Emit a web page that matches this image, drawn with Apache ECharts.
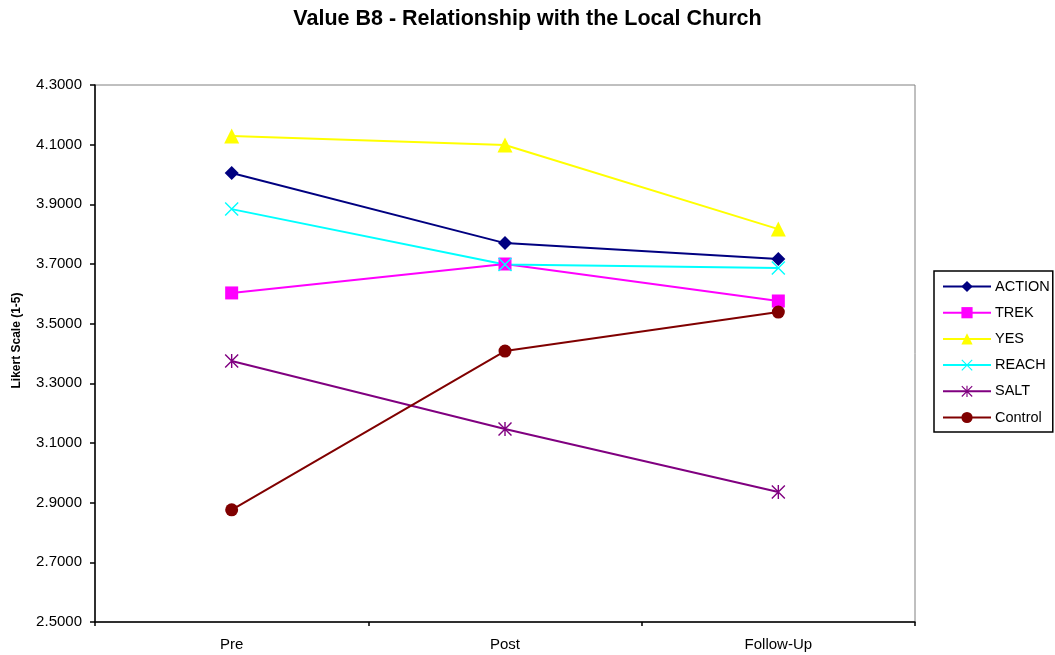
<!DOCTYPE html>
<html>
<head>
<meta charset="utf-8">
<script src="https://cdn.jsdelivr.net/npm/echarts@6/dist/echarts.min.js"></script>
<style>
  html, body { margin: 0; padding: 0; background: #ffffff; }
  #chart { width: 1055px; height: 655px; }
</style>
</head>
<body>
<div id="chart"></div>
<script>
// Survey waves
const categories = ['Pre', 'Post', 'Follow-Up'];

// Mean Likert scores per program
const action  = [4.005, 3.770, 3.717];
const trek    = [3.603, 3.700, 3.576];
const yes     = [4.129, 4.099, 3.817];
const reach   = [3.884, 3.698, 3.687];
const salt    = [3.375, 3.147, 2.936];
const control = [2.876, 3.408, 3.539];

// Value-axis range and step
const yMin = 2.5;
const yMax = 4.3;
const yStep = 0.2;

// Marker shapes: an "x" and a six-armed asterisk, built from filled bars
const crossPath = 'path://M0,1L1,0L14,13L13,14ZM13,0L14,1L1,14L0,13Z';
const starPath = 'path://M0,1L1,0L14,13L13,14ZM13,0L14,1L1,14L0,13ZM6.3,0L7.7,0L7.7,14L6.3,14Z';

const FONT = 'Liberation Sans, Arial, sans-serif';

function makeSeries(name, data, color, symbol, size) {
  return {
    name: name,
    type: 'line',
    data: data,
    symbol: symbol,
    symbolSize: size,
    showAllSymbol: true,
    lineStyle: { color: color, width: 2 },
    itemStyle: { color: color },
    emphasis: { disabled: true },
    animation: false
  };
}

const chart = echarts.init(document.getElementById('chart'), null, { renderer: 'canvas' });

chart.setOption({
  backgroundColor: '#ffffff',
  textStyle: { fontFamily: FONT },
  title: {
    text: 'Value B8 - Relationship with the Local Church',
    left: 'center',
    top: 3,
    textStyle: {
      fontFamily: FONT,
      fontSize: 21.5,
      fontWeight: 'bold',
      color: '#000000'
    }
  },
  legend: {
    orient: 'vertical',
    left: 934,
    top: 271,
    padding: [8, 3, 7, 8],
    itemWidth: 48,
    itemHeight: 14,
    itemGap: 11.2,
    borderColor: '#000000',
    borderWidth: 1.5,
    backgroundColor: '#ffffff',
    selectedMode: false,
    textStyle: {
      fontFamily: FONT,
      fontSize: 14.5,
      lineHeight: 14,
      color: '#000000',
      padding: [0, 0, 0, -1]
    },
    data: ['ACTION', 'TREK', 'YES', 'REACH', 'SALT', 'Control']
  },
  grid: {
    left: 95,
    right: 140,
    top: 85,
    bottom: 33,
    show: true,
    borderColor: '#808080',
    borderWidth: 1,
    backgroundColor: '#ffffff'
  },
  xAxis: {
    type: 'category',
    data: categories,
    boundaryGap: true,
    axisLine: { lineStyle: { color: '#000000', width: 1.5 } },
    axisTick: { show: true, length: 4, lineStyle: { color: '#000000', width: 1.5 } },
    axisLabel: {
      margin: 15,
      fontSize: 15,
      color: '#000000',
      fontFamily: FONT
    },
    splitLine: { show: false }
  },
  yAxis: {
    type: 'value',
    min: yMin,
    max: yMax,
    interval: yStep,
    name: 'Likert Scale (1-5)',
    nameLocation: 'middle',
    nameGap: 72,
    nameTextStyle: {
      fontFamily: FONT,
      fontSize: 12,
      fontWeight: 'bold',
      color: '#000000',
      padding: [0, 0, 0, 26]
    },
    axisLine: { show: true, lineStyle: { color: '#000000', width: 1.5 } },
    axisTick: { show: true, length: 5, lineStyle: { color: '#000000', width: 1.5 } },
    axisLabel: {
      margin: 13,
      fontSize: 15,
      color: '#000000',
      fontFamily: FONT,
      formatter: function (v) { return v.toFixed(4); }
    },
    splitLine: { show: false }
  },
  series: [
    makeSeries('ACTION', action, '#000080', 'diamond', 14),
    makeSeries('TREK', trek, '#FF00FF', 'rect', 13),
    makeSeries('YES', yes, '#FFFF00', 'triangle', 15),
    makeSeries('REACH', reach, '#00FFFF', crossPath, 14),
    makeSeries('SALT', salt, '#800080', starPath, 14),
    makeSeries('Control', control, '#800000', 'circle', 13)
  ]
});
</script>
</body>
</html>
